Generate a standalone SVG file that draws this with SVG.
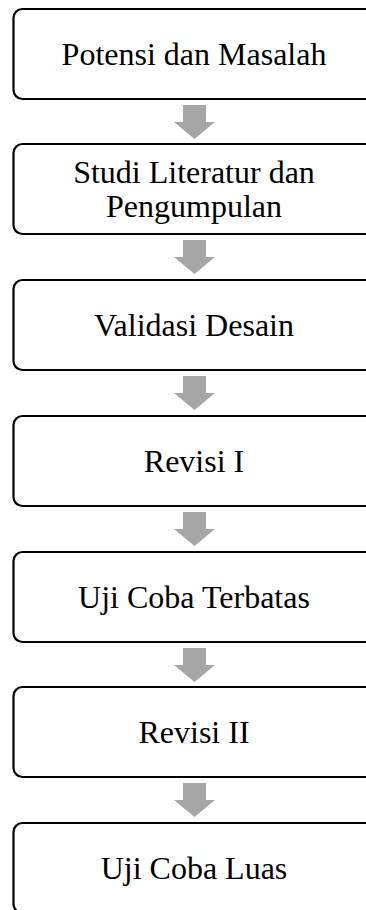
<svg xmlns="http://www.w3.org/2000/svg" width="366" height="910" viewBox="0 0 366 910">
<style>
.box{fill:#fff;stroke:#000;stroke-width:2.2}
.lbl{font-family:'Liberation Serif','Times New Roman',Times,serif;font-size:32px;fill:#000;text-anchor:middle}
.arr{fill:#a6a6a6}
</style>
<rect width="366" height="910" fill="#fff"/>
<g id="connectors">
<path class="arr" d="M183,105 H206 V122 H215 L194.5,139 L174,122 H183 Z"/>
<path class="arr" d="M183,240 H206 V257 H215 L194.5,274 L174,257 H183 Z"/>
<path class="arr" d="M183,376 H206 V393 H215 L194.5,410 L174,393 H183 Z"/>
<path class="arr" d="M183,512 H206 V529 H215 L194.5,546 L174,529 H183 Z"/>
<path class="arr" d="M183,648 H206 V665 H215 L194.5,682 L174,665 H183 Z"/>
<path class="arr" d="M183,783 H206 V800 H215 L194.5,817 L174,800 H183 Z"/>
</g>
<g id="n1"><rect class="box" x="13.5" y="9" width="362" height="90" rx="9"/><text class="lbl" font-family="Liberation Serif" x="194" y="65">Potensi dan Masalah</text></g>
<g id="n2"><rect class="box" x="13.5" y="144" width="362" height="90" rx="9"/><text class="lbl" font-family="Liberation Serif" x="194" y="183">Studi Literatur dan</text><text class="lbl" font-family="Liberation Serif" x="194" y="217">Pengumpulan</text></g>
<g id="n3"><rect class="box" x="13.5" y="280" width="362" height="90" rx="9"/><text class="lbl" font-family="Liberation Serif" x="194" y="336">Validasi Desain</text></g>
<g id="n4"><rect class="box" x="13.5" y="416" width="362" height="90" rx="9"/><text class="lbl" font-family="Liberation Serif" x="194" y="472">Revisi I</text></g>
<g id="n5"><rect class="box" x="13.5" y="552" width="362" height="90" rx="9"/><text class="lbl" font-family="Liberation Serif" x="194" y="608">Uji Coba Terbatas</text></g>
<g id="n6"><rect class="box" x="13.5" y="687" width="362" height="90" rx="9"/><text class="lbl" font-family="Liberation Serif" x="194" y="743">Revisi II</text></g>
<g id="n7"><rect class="box" x="13.5" y="823" width="362" height="90" rx="9"/><text class="lbl" font-family="Liberation Serif" x="194" y="879">Uji Coba Luas</text></g>
</svg>
